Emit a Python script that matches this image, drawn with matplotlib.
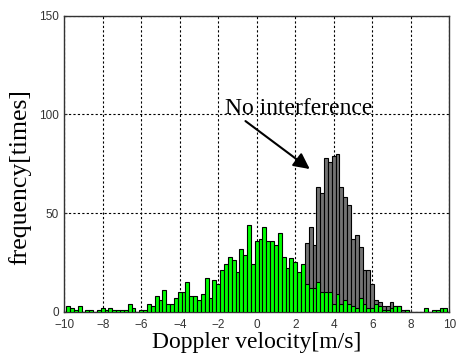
import matplotlib
matplotlib.use('Agg')
import matplotlib.pyplot as plt
import numpy as np

# bin centres: -10 .. 10 step 0.2 (101 bins)
centers = np.round(np.arange(-10, 10.001, 0.2), 1)

# histogram with interference (green)
green = [
    0, 3, 2, 1, 3, 0, 1, 1, 0, 1,          # -10.0 .. -8.2
    2, 1, 2, 1, 1, 1, 1, 4, 2, 0,          # -8.0 .. -6.2
    1, 1, 4, 3, 8, 6, 11, 4, 4, 7,         # -6.0 .. -4.2
    10, 10, 15, 8, 8, 6, 9, 17, 7, 16,     # -4.0 .. -2.2
    14, 21, 24, 28, 26, 20, 32, 29, 44, 24,  # -2.0 .. -0.2
    36, 37, 43, 36, 36, 34, 40, 28, 22, 27,  # 0.0 .. 1.8
    25, 20, 24, 14, 12, 12, 15, 10, 10, 10,  # 2.0 .. 3.8
    4, 9, 4, 6, 4, 3, 2, 7, 4, 2,          # 4.0 .. 5.8
    2, 4, 3, 1, 1, 2, 3, 3, 0, 1,          # 6.0 .. 7.8
    0, 0, 0, 0, 2, 0, 1, 1, 2, 2,          # 8.0 .. 9.8
    0,                                     # 10.0
]

# histogram without interference (gray), only visible part
gray_centers = np.round(np.arange(2.6, 7.801, 0.2), 1)
gray = [35, 43, 34, 63, 60, 78, 76, 79, 80, 63,
        58, 54, 37, 39, 33, 21, 21, 14, 6, 5,
        3, 3, 5, 3, 3, 1, 1]

serif = ['Liberation Serif', 'DejaVu Serif']

fig = plt.figure(figsize=(4.57, 3.6), dpi=100)
ax = fig.add_axes([0.1405, 0.134, 0.8425, 0.822])

ax.bar(gray_centers, gray, width=0.2, color='#737373', edgecolor='black',
       linewidth=0.8, zorder=2)
ax.bar(centers, green, width=0.2, color='#00ff00', edgecolor='black',
       linewidth=0.8, zorder=3)

ax.set_xlim(-10, 10)
ax.set_ylim(0, 150)
ax.set_xticks(np.arange(-10, 11, 2))
ax.set_yticks([0, 50, 100, 150])
ax.grid(True, color='black', linestyle=(0, (2, 2)), linewidth=0.8)
ax.set_axisbelow(True)
ax.tick_params(direction='in', length=2, labelsize=8.5, colors='#333333',
               labelcolor='#333333')
ax.tick_params(axis='x', pad=5)
ax.tick_params(axis='y', pad=4)
for lbl in ax.get_xticklabels() + ax.get_yticklabels():
    lbl.set_family(['Liberation Sans', 'DejaVu Sans'])
for sp in ax.spines.values():
    sp.set_linewidth(1.0)
    sp.set_color('#333333')

ax.set_xlabel('Doppler velocity[m/s]', family=serif, fontsize=17, labelpad=1)
ax.set_ylabel('frequency[times]', family=serif, fontsize=18.5)
ax.yaxis.set_label_coords(-0.085, 0.455)

ax.text(6.03, 100, 'No interference', family=serif, fontsize=17,
        ha='right', va='baseline', zorder=5)
ax.annotate('', xy=(2.87, 71.5), xytext=(-0.7, 97.5),
            arrowprops=dict(arrowstyle='-|>', mutation_scale=24, lw=1.5,
                            color='black'), zorder=5)

fig.savefig('out.png', dpi=100)
